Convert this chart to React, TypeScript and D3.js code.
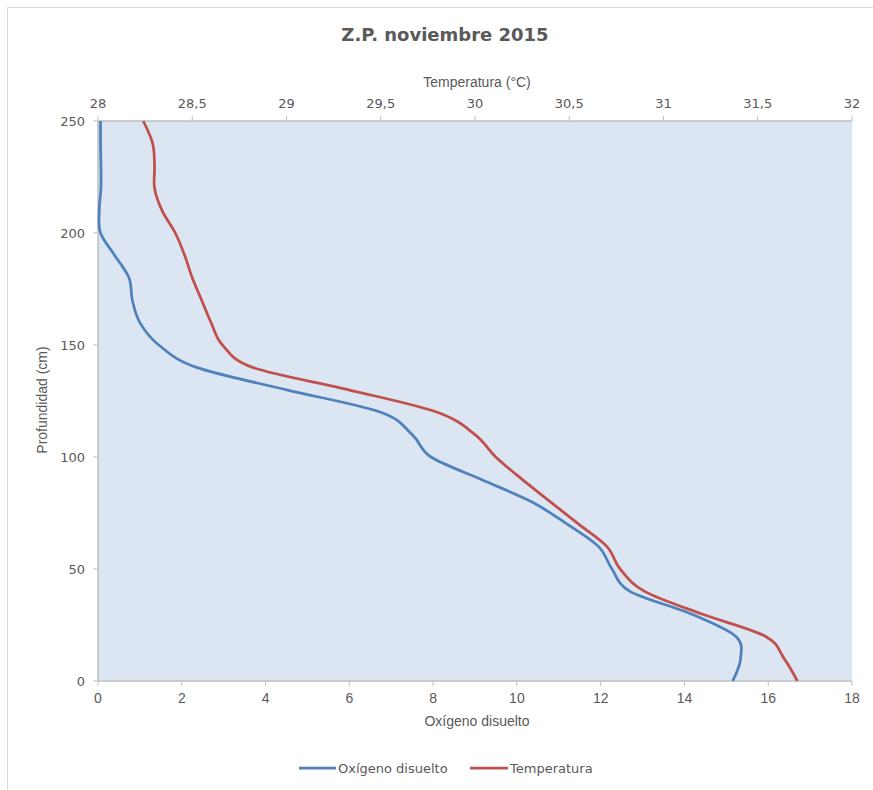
import React from 'react';
import * as d3 from 'd3';

const depths = [0, 10, 20, 30, 40, 50, 60, 70, 80, 90, 100, 110, 120, 130, 140, 150, 160, 170, 180, 190, 200, 210, 220, 230, 240, 250];
const oxygen = [15.15, 15.34, 15.22, 14.15, 12.7, 12.27, 11.95, 11.2, 10.35, 9.15, 7.95, 7.5, 6.75, 4.5, 2.35, 1.45, 1.0, 0.82, 0.74, 0.4, 0.06, 0.03, 0.07, 0.07, 0.06, 0.06];
const temperature = [31.71, 31.64, 31.54, 31.2, 30.9, 30.77, 30.7, 30.55, 30.4, 30.25, 30.11, 30.0, 29.8, 29.33, 28.82, 28.66, 28.6, 28.55, 28.5, 28.46, 28.41, 28.34, 28.3, 28.3, 28.29, 28.24];

const oxygenTicks = [0, 2, 4, 6, 8, 10, 12, 14, 16, 18];
const tempTicks = [28, 28.5, 29, 29.5, 30, 30.5, 31, 31.5, 32];
const depthTicks = [0, 50, 100, 150, 200, 250];

const title = 'Z.P. noviembre 2015';
const oxygenLabel = 'Oxígeno disuelto';
const tempLabel = 'Temperatura (°C)';
const depthLabel = 'Profundidad (cm)';

const BLUE = '#4F81BD';
const RED = '#C0504D';
const GRID = '#BFBFBF';
const TEXT = '#595959';

export default function App() {
  const W = 873, H = 790;
  const left = 98, right = 852, top = 121, bottom = 681;

  const x = d3.scaleLinear().domain([0, 18]).range([left, right]);
  const xt = d3.scaleLinear().domain([28, 32]).range([left, right]);
  const y = d3.scaleLinear().domain([0, 250]).range([bottom, top]);

  // Excel-style smoothing ~ uniform Catmull-Rom
  const lineO = d3.line<number>()
    .x((_, i) => x(oxygen[i]))
    .y(d => y(d))
    .curve(d3.curveCatmullRom.alpha(0));
  const lineT = d3.line<number>()
    .x((_, i) => xt(temperature[i]))
    .y(d => y(d))
    .curve(d3.curveCatmullRom.alpha(0));

  const fmt = (v: number) => String(v).replace('.', ',');
  const tickFont = 'DejaVu Sans, sans-serif';
  const labelFont = 'Liberation Sans, Arial, sans-serif';

  return (
    <svg width={W} height={H} style={{ position: 'absolute', left: 0, top: 0, background: '#fff' }}>
      <rect x={7.5} y={7.5} width={W} height={H} fill="#fff" stroke="#D9D9D9" />

      <text x={445} y={41} textAnchor="middle" fontFamily={tickFont} fontWeight="bold" fontSize={18} fill={TEXT}>{title}</text>

      <rect x={left} y={top} width={right - left} height={bottom - top} fill="#DCE6F2" />

      {/* top axis: temperature */}
      <line x1={left} x2={right} y1={top} y2={top} stroke={GRID} strokeWidth={1.5} />
      {tempTicks.map(t => (
        <g key={'t' + t}>
          <line x1={xt(t)} x2={xt(t)} y1={top - 5} y2={top} stroke={GRID} strokeWidth={1} />
          <text x={xt(t)} y={108} textAnchor="middle" fontFamily={tickFont} fontSize={13} fill={TEXT}>{fmt(t)}</text>
        </g>
      ))}
      <text x={477} y={87} textAnchor="middle" fontFamily={labelFont} fontSize={14} fill={TEXT}>{tempLabel}</text>

      {/* bottom axis: oxygen */}
      <line x1={left} x2={right} y1={bottom} y2={bottom} stroke={GRID} strokeWidth={1.5} />
      {oxygenTicks.map(t => (
        <g key={'o' + t}>
          <line x1={x(t)} x2={x(t)} y1={bottom} y2={bottom + 5} stroke={GRID} strokeWidth={1} />
          <text x={x(t)} y={703} textAnchor="middle" fontFamily={labelFont} fontSize={14} fill={TEXT}>{t}</text>
        </g>
      ))}
      <text x={477} y={726} textAnchor="middle" fontFamily={labelFont} fontSize={14} fill={TEXT}>{oxygenLabel}</text>

      {/* left axis: depth */}
      <line x1={left} x2={left} y1={top} y2={bottom} stroke={GRID} strokeWidth={1.5} />
      {depthTicks.map(t => (
        <g key={'d' + t}>
          <line x1={left - 5} x2={left} y1={y(t)} y2={y(t)} stroke={GRID} strokeWidth={1} />
          <text x={85} y={y(t) + 5} textAnchor="end" fontFamily={tickFont} fontSize={13} fill={TEXT}>{t}</text>
        </g>
      ))}
      <text transform={`translate(47,400) rotate(-90)`} textAnchor="middle" fontFamily={labelFont} fontSize={14} fill={TEXT}>{depthLabel}</text>

      <path d={lineO(depths) || ''} fill="none" stroke={BLUE} strokeWidth={2.75} />
      <path d={lineT(depths) || ''} fill="none" stroke={RED} strokeWidth={2.75} />

      {/* legend */}
      <line x1={299} x2={336} y1={768} y2={768} stroke={BLUE} strokeWidth={2.75} />
      <text x={338} y={773} fontFamily={tickFont} fontSize={13} fill={TEXT}>{oxygenLabel}</text>
      <line x1={470} x2={508} y1={768} y2={768} stroke={RED} strokeWidth={2.75} />
      <text x={510} y={773} fontFamily={tickFont} fontSize={13} fill={TEXT}>Temperatura</text>
    </svg>
  );
}
